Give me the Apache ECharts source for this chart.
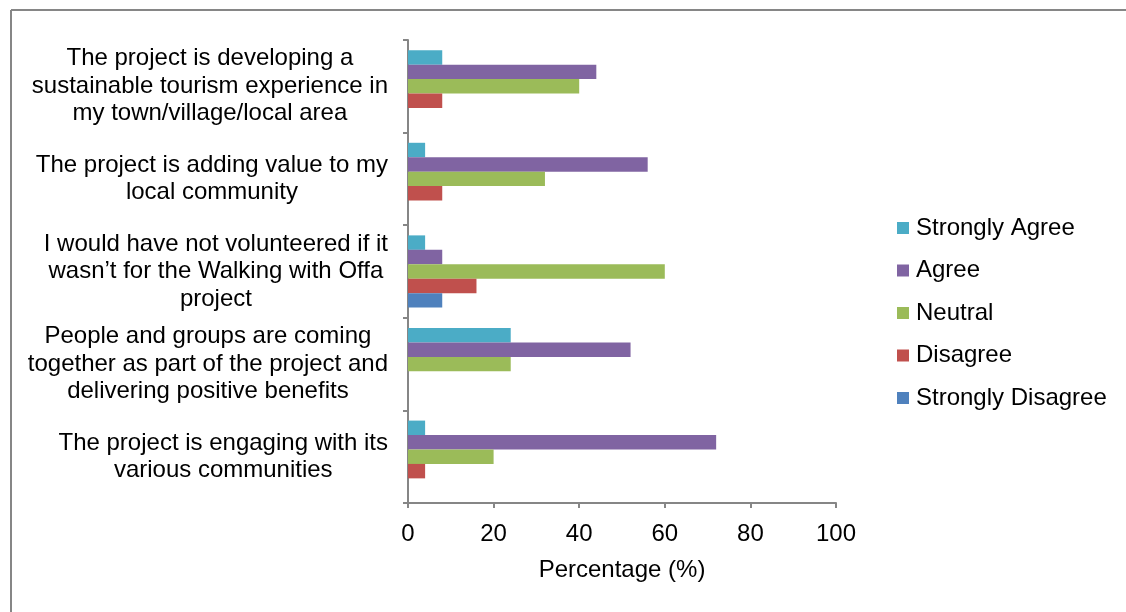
<!DOCTYPE html>
<html>
<head>
<meta charset="utf-8">
<script src="https://cdn.jsdelivr.net/npm/echarts@6/dist/echarts.min.js"></script>
<style>html,body{margin:0;padding:0;background:#fff}#c{width:1126px;height:612px}</style>
</head>
<body>
<div id="c"></div>
<script>
const categories = [
  "The project is developing a\nsustainable tourism experience in\nmy town/village/local area",
  "The project is adding value to my\nlocal community",
  "I would have not volunteered if it\nwasn\u2019t for the Walking with Offa\nproject",
  "People and groups are coming\ntogether as part of the project and\ndelivering positive benefits",
  "The project is engaging with its\nvarious communities"
];
const seriesNames = ["Strongly Agree", "Agree", "Neutral", "Disagree", "Strongly Disagree"];
const stronglyAgree = [8, 4, 4, 24, 4];
const agree = [44, 56, 8, 52, 72];
const neutral = [40, 32, 60, 24, 20];
const disagree = [8, 8, 16, 0, 4];
const stronglyDisagree = [0, 0, 8, 0, 0];
const xTicks = [0, 20, 40, 60, 80, 100];
const colors = ["#4BACC6", "#8064A2", "#9BBB59", "#C0504D", "#4F81BD"];

const values = [stronglyAgree, agree, neutral, disagree, stronglyDisagree];
const font = "'Liberation Sans', Arial, sans-serif";
const axisGray = "#868686";
const fs = 24;

const chart = echarts.init(document.getElementById('c'), null, {renderer: 'canvas'});
chart.setOption({
  animation: false,
  backgroundColor: '#fff',
  color: colors,
  textStyle: {fontFamily: font},
  grid: {left: 408, right: 290, top: 40, bottom: 109, containLabel: false},
  legend: {
    orient: 'vertical',
    left: 897,
    top: 216,
    padding: 0,
    itemWidth: 12,
    itemHeight: 12,
    itemGap: 18.5,
    icon: 'rect',
    data: seriesNames,
    textStyle: {fontFamily: font, fontSize: fs, color: '#000', lineHeight: 24, padding: [0, 0, 0, 2]}
  },
  xAxis: {
    type: 'value',
    min: xTicks[0],
    max: xTicks[xTicks.length - 1],
    interval: 20,
    name: 'Percentage (%)',
    nameLocation: 'middle',
    nameGap: 55,
    nameTextStyle: {fontFamily: font, fontSize: fs, color: '#000'},
    axisLine: {show: true, lineStyle: {color: axisGray, width: 2}},
    axisTick: {show: true, length: 5, inside: false, lineStyle: {color: axisGray, width: 2}},
    axisLabel: {fontFamily: font, fontSize: fs, color: '#000', margin: 19},
    splitLine: {show: false}
  },
  yAxis: {
    type: 'category',
    inverse: true,
    data: categories,
    axisLine: {show: true, lineStyle: {color: axisGray, width: 2}},
    axisTick: {show: true, length: 5, inside: false, lineStyle: {color: axisGray, width: 2}},
    axisLabel: {
      fontFamily: font, fontSize: fs, color: '#000', margin: 20, align: 'right',
      lineHeight: 27.5,
      formatter: function (v) { return v.split('\n').map(function (l) { return '{a|' + l + '}'; }).join('\n'); },
      rich: {a: {align: 'center', fontFamily: font, fontSize: fs, color: '#000', lineHeight: 27.5}}
    },
    splitLine: {show: false}
  },
  series: seriesNames.map(function (n, i) {
    return {
      name: n,
      type: 'bar',
      data: values[i],
      barGap: '0%',
      barCategoryGap: '22%',
      itemStyle: {color: colors[i]}
    };
  }),
  graphic: [
    {type: 'line', shape: {x1: 11, y1: 10, x2: 1126, y2: 10}, style: {stroke: axisGray, lineWidth: 2}},
    {type: 'line', shape: {x1: 11, y1: 10, x2: 11, y2: 612}, style: {stroke: axisGray, lineWidth: 2}}
  ]
});
</script>
</body>
</html>
